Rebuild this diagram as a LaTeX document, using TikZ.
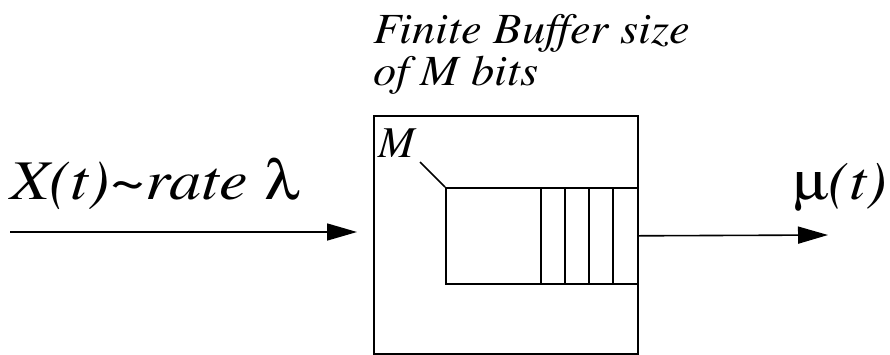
\documentclass[tikz,border=0pt]{standalone}
\usepackage[T1]{fontenc}
\renewcommand{\rmdefault}{ptm}
\usepackage[Symbol]{upgreek}
\usetikzlibrary{arrows.meta}

% the reference glyphs are set a little wider than Times
\newcommand{\stretchtxt}[2][1.15]{\scalebox{#1}[1]{#2}}

\tikzset{
  bufline/.style={line width=1.6pt},
  flow/.style={line width=1.6pt, -{Triangle[length=30pt, width=17pt]}},
  lbl/.style={inner sep=0pt, anchor=base west}
}

\begin{document}
\begin{tikzpicture}[x=1pt, y=-1pt]
    \useasboundingbox (0,0) rectangle (890,354);

    % 1. buffer box and queue
    \node[bufline, draw, inner sep=0pt, anchor=north west,
          minimum width=264pt, minimum height=238pt] (buffer) at (373,115) {};
    \node[bufline, draw, inner sep=0pt, anchor=north west,
          minimum width=192pt, minimum height=96pt] (queue) at (445,187) {};

    % 2. cells of the queue
    \foreach \cx in {541,565,589,613}
        \draw[bufline] (\cx,187) -- (\cx,283);

    % 3. label M with its tick
    \node[lbl, font=\fontsize{44}{48}\selectfont\itshape] (mlabel) at (378,157) {M};
    \coordinate (mtick) at (420,162);
    \draw[bufline] (mtick) -- (queue.north west);

    % 4. buffer caption (base is the last line)
    \node[lbl, align=left, font=\fontsize{43}{42}\selectfont\itshape] (caption) at (373,85)
        {\stretchtxt[1.08]{Finite Buffer size}\\\stretchtxt[1.08]{of M bits}};

    % 5. arrival flow
    \coordinate (src) at (10,232);
    \coordinate (inlet) at (357,232);
    \draw[flow] (src) -- (inlet);
    \node[lbl, font=\fontsize{56}{60}\selectfont] (arrival) at (10,199)
        {\stretchtxt{\textit{X(t)\textasciitilde rate} $\uplambda$}};

    % 6. service flow
    \coordinate (sink) at (828,235);
    \draw[flow] (queue.east) -- (sink);
    \node[lbl, font=\fontsize{54}{60}\selectfont] (service) at (793,199)
        {\stretchtxt{$\upmu$\textit{(t)}}};
\end{tikzpicture}
\end{document}
